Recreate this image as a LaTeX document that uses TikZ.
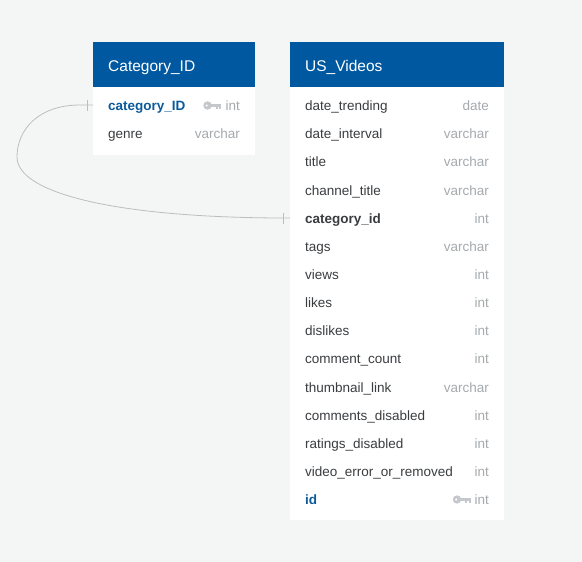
\documentclass[tikz,border=0pt]{standalone}
\usepackage{fontspec}
\setmainfont{Liberation Sans}
\definecolor{canvas}{HTML}{F4F5F5}
\definecolor{hdrblue}{HTML}{0059A0}
\definecolor{pkblue}{HTML}{0B5A9C}
\definecolor{fieldgray}{HTML}{3A3D40}
\definecolor{typegray}{HTML}{A6AAAE}
\definecolor{keygray}{HTML}{C4C8CC}
\definecolor{linkgray}{HTML}{BDBDBD}
\begin{document}
\begin{tikzpicture}[x=1pt,y=-1pt,
    tabletitle/.style={anchor=west,inner sep=0pt,text=white,text height=11,text depth=0,
      font=\fontsize{15.5}{18}\selectfont},
    field/.style={anchor=west,inner sep=0pt,text=fieldgray,text height=9.7,text depth=0,
      font=\fontsize{13.5}{16}\selectfont},
    fkfield/.style={field,font=\fontsize{13.5}{16}\selectfont\bfseries},
    pkfield/.style={field,text=pkblue,font=\fontsize{13.5}{16}\selectfont\bfseries},
    ftype/.style={anchor=east,inner sep=0pt,text=typegray,text height=9.7,text depth=0,
      font=\fontsize{13.5}{16}\selectfont},
    keyicon/.pic={
      \fill[keygray] (0,0) circle (4.2);
      \fill[white] (-0.8,0) circle (1.2);
      \fill[keygray] (2,-1.6) rectangle (13.5,1.6);
      \fill[keygray] (8,0) rectangle (10,3.8);
      \fill[keygray] (11.5,0) rectangle (13.5,3.8);
    }]
    \fill[canvas] (0,0) rectangle (582,562);
    % Category_ID table
    \fill[white] (93,87) rectangle (255,155);
    \fill[hdrblue] (93,42) rectangle (255,87);
    \node[tabletitle] (cat-title) at (108,65.5) {Category\_ID};
    \node[pkfield] (cat-0) at (108,105.8) {category\_ID};
    \pic at (207.5,105.5) {keyicon};
    \node[ftype] (cat-0-t) at (240,105.8) {int};
    \node[field] (cat-1) at (108,133.9) {genre};
    \node[ftype] (cat-1-t) at (240,133.9) {varchar};
    % US_Videos table
    \fill[white] (290,87) rectangle (504,520);
    \fill[hdrblue] (290,42) rectangle (504,87);
    \node[tabletitle] (us-title) at (305,65.5) {US\_Videos};
    \foreach \i/\name/\type in {0/date\_trending/date, 1/date\_interval/varchar,
      2/title/varchar, 3/channel\_title/varchar, 5/tags/varchar, 6/views/int,
      7/likes/int, 8/dislikes/int, 9/comment\_count/int, 10/thumbnail\_link/varchar,
      11/comments\_disabled/int, 12/ratings\_disabled/int, 13/video\_error\_or\_removed/int}
    {
      \node[field] (us-\i) at (305,{105.8+28.14*\i}) {\name};
      \node[ftype] (us-\i-t) at (489,{105.8+28.14*\i}) {\type};
    }
    \node[fkfield] (us-4) at (305,218.4) {category\_id};
    \node[ftype] (us-4-t) at (489,218.4) {int};
    \node[pkfield] (us-14) at (305,499.8) {id};
    \pic at (457,499.5) {keyicon};
    \node[ftype] (us-14-t) at (489,499.8) {int};
    % relation
    \coordinate (cat-in) at (93,105);
    \coordinate (us-in) at (290,218);
    \draw[linkgray,line width=0.8pt] (cat-in) -- ++(-13,0)
      .. controls (38,105) and (17,130) .. (17,157)
      .. controls (17,192) and (110,217) .. (278,218) -- (us-in);
    \draw[linkgray,line width=0.8pt] (cat-in) ++(-6,-5.5) -- ++(0,11);
    \draw[linkgray,line width=0.8pt] (us-in) ++(-7,-5.5) -- ++(0,11);
\end{tikzpicture}
\end{document}
